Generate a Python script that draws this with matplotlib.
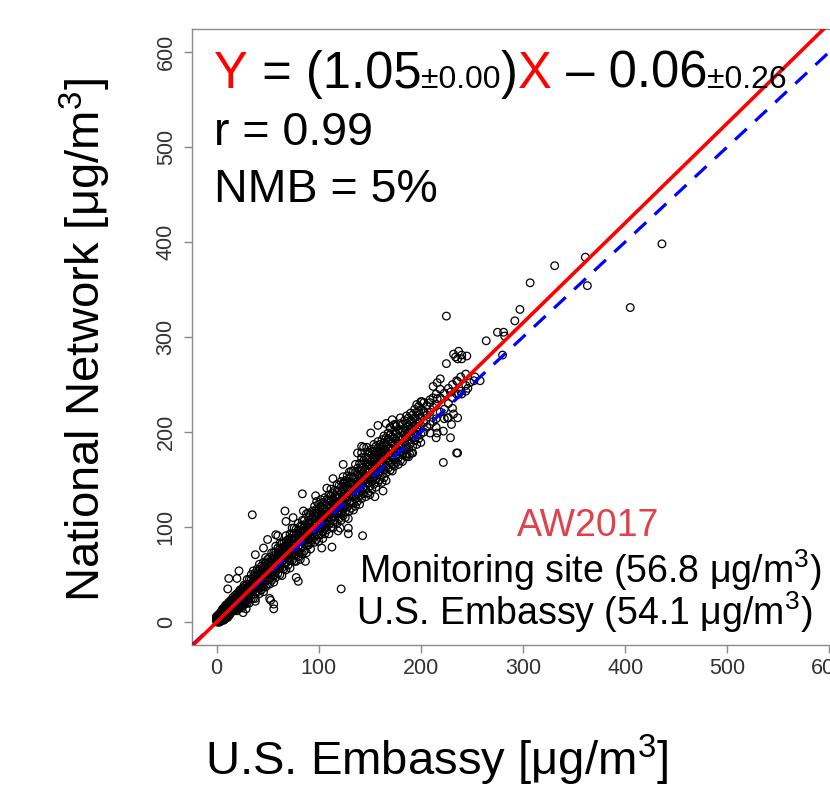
import matplotlib
matplotlib.use("Agg")
import matplotlib.pyplot as plt
import numpy as np

plt.rcParams['font.family'] = ['Liberation Sans', 'DejaVu Sans']
plt.rcParams['mathtext.fontset'] = 'custom'
plt.rcParams['mathtext.rm'] = 'Liberation Sans'
plt.rcParams['mathtext.it'] = 'Liberation Sans:italic'
plt.rcParams['mathtext.default'] = 'rm'

# ---------------- data ----------------
# dense core: (x, list of y values)
core_rows = [
    (0, [1, 4, 2, 6]), (1, [0, 3, 5]), (2, [1, 5, 8, 3]), (3, [2, 6, 0, 9]),
    (4, [3, 7, 1, 10, 5]), (5, [4, 9, 2, 6, 12]), (6, [3, 8, 11, 5, 14]), (7, [6, 10, 2, 13, 8]),
    (8, [5, 9, 12, 7, 16, 3]), (9, [7, 11, 14, 4, 10, 18]), (10, [8, 13, 6, 11, 17]),
    (11, [9, 14, 11, 5, 19, 16]), (12, [12, 16, 9, 14, 21, 7]), (13, [11, 17, 13, 8, 20, 15]),
    (14, [14, 18, 10, 16, 23, 12]), (15, [13, 19, 15, 11, 22, 17]), (16, [16, 21, 12, 18, 26, 14]),
    (17, [15, 20, 17, 13, 24, 19]), (18, [18, 23, 14, 21, 28, 16]), (19, [17, 22, 19, 13, 26, 24]),
    (20, [20, 25, 16, 22, 30, 18, 12]), (21, [19, 24, 21, 15, 28, 26]), (22, [22, 27, 18, 24, 32, 20]),
    (23, [21, 26, 23, 16, 30, 28, 34]), (24, [24, 29, 19, 26, 34, 22]), (25, [23, 28, 25, 18, 32, 30, 15]),
    (26, [26, 31, 21, 28, 36, 24]), (27, [25, 30, 27, 20, 34, 32, 39]), (28, [28, 33, 23, 30, 38, 26, 19]),
    (29, [27, 32, 29, 22, 36, 34]),
    (30, [20, 26, 31, 35, 40, 45, 29]), (32, [25, 30, 36, 40, 45, 20, 34]), (34, [25, 29, 34, 40, 45, 50, 37]),
    (36, [25, 33, 38, 43, 48, 36, 54]), (38, [32, 37, 43, 47, 52, 25, 41]), (40, [32, 36, 41, 46, 51, 56, 44]),
    (42, [30, 40, 45, 50, 55, 36, 61]), (44, [37, 44, 49, 54, 59, 34, 46]), (46, [37, 42, 48, 53, 58, 32, 63]),
    (48, [43, 47, 52, 57, 62, 37, 68]), (50, [40, 47, 51, 56, 61, 66, 53]), (52, [46, 51, 58, 63, 68, 40, 55]),
    (54, [44, 50, 55, 62, 67, 73, 59]), (56, [49, 56, 60, 65, 70, 42, 73]), (58, [53, 56, 63, 68, 74, 47, 80]),
    (60, [51, 57, 63, 67, 72, 78, 61]), (62, [50, 57, 62, 68, 73, 77, 83]), (64, [57, 63, 68, 73, 78, 49, 83]),
    (66, [56, 62, 68, 74, 79, 84, 71]), (68, [62, 68, 74, 79, 85, 55, 91]), (70, [60, 66, 72, 78, 83, 87, 74]),
    (72, [65, 71, 77, 83, 88, 57, 93]), (74, [71, 76, 82, 88, 93, 65, 99]), (76, [64, 71, 77, 82, 88, 93, 99]),
    (78, [70, 76, 82, 88, 93, 64, 98]), (80, [74, 80, 86, 91, 97, 69, 104]), (82, [73, 78, 85, 90, 96, 101, 66]),
    (84, [79, 85, 91, 96, 102, 72, 107]), (86, [75, 83, 88, 95, 101, 107, 90]), (88, [81, 87, 93, 99, 104, 73, 114]),
    (90, [87, 92, 99, 104, 110, 81, 115]), (92, [83, 88, 95, 100, 107, 113, 77]), (94, [87, 93, 99, 105, 111, 117, 96]),
    (96, [91, 97, 103, 109, 115, 84, 122]), (98, [87, 95, 102, 108, 114, 119, 104]),
    (100, [92, 99, 106, 112, 118, 85, 124]), (102, [98, 103, 110, 116, 122, 92, 129]),
    (104, [95, 102, 108, 114, 120, 126, 88]), (106, [100, 106, 113, 119, 125, 93, 131]),
    (108, [97, 103, 110, 117, 123, 129, 113]), (110, [103, 109, 116, 122, 128, 134, 93]),
    (112, [108, 114, 121, 127, 133, 100, 140]), (114, [104, 111, 117, 124, 130, 136, 99]),
    (116, [108, 115, 121, 127, 133, 139, 124]), (118, [114, 120, 126, 132, 138, 104, 145]),
    (120, [109, 117, 124, 131, 138, 144, 126]), (122, [114, 121, 129, 136, 142, 107, 148]),
    (124, [119, 125, 132, 139, 146, 112, 153]), (126, [116, 122, 129, 136, 143, 149, 110]),
    (128, [121, 128, 135, 141, 148, 154, 133]), (130, [126, 132, 139, 146, 152, 117, 158]),
    (132, [120, 127, 134, 140, 147, 153, 159]), (134, [125, 132, 139, 146, 152, 159, 118]),
    (136, [130, 137, 145, 151, 158, 122, 166]), (138, [127, 135, 141, 148, 156, 162, 145]),
    (140, [133, 140, 147, 154, 160, 167, 124]), (142, [138, 145, 152, 159, 166, 130, 173]),
    (144, [135, 141, 149, 156, 163, 170, 150]), (146, [140, 147, 154, 161, 168, 174, 132]),
    (148, [136, 146, 152, 159, 166, 173, 179]), (150, [143, 150, 158, 164, 171, 178, 134]),
    (152, [148, 155, 162, 169, 176, 140, 182]), (154, [145, 152, 159, 166, 173, 180, 187]),
    (156, [150, 157, 164, 171, 178, 185, 142]), (158, [155, 162, 169, 176, 183, 147, 190]),
    (160, [150, 159, 166, 173, 180, 187, 168]), (162, [155, 163, 171, 178, 185, 192, 147]),
    (164, [160, 167, 175, 182, 189, 152, 196]), (166, [157, 164, 172, 180, 187, 194, 149]),
    (168, [162, 170, 177, 184, 192, 199]), (170, [160, 168, 175, 183, 190, 197, 204]),
    (172, [166, 173, 181, 188, 195, 159]), (174, [171, 178, 186, 193, 201, 164, 207]),
    (176, [168, 176, 183, 191, 198, 206]), (178, [173, 181, 188, 195, 203, 166]),
    (180, [170, 179, 186, 194, 201, 209, 215]), (182, [176, 184, 192, 200, 208, 169]),
    (184, [181, 189, 197, 204, 212]), (186, [177, 186, 194, 202, 209, 217]),
    (188, [183, 191, 199, 207, 215, 174]), (190, [188, 196, 204, 212, 220]),
    (192, [185, 194, 202, 210, 218, 178]), (194, [191, 199, 207, 215, 224]),
    (196, [187, 197, 205, 213, 221, 229]), (198, [193, 202, 210, 218, 227]),
    (200, [198, 207, 215, 223, 189, 232]),
    (203, [200, 210, 222, 231]), (206, [205, 218, 228]), (209, [208, 221, 234, 199]),
    (212, [211, 226, 236]), (215, [214, 229, 240, 205]), (219, [221, 236, 245]),
    (223, [224, 241, 214]), (227, [230, 246]), (231, [236, 250, 225]), (235, [240, 254]),
    (239, [243, 258]), (244, [249, 261]), (248, [252]), (253, [258]),
]

# scattered points and outliers (x, y)
sparse_pts = [
    (35, 113), (122, 35), (143, 91), (222, 168), (235, 178), (67, 117), (84, 135), (97, 133),
    (114, 151), (113, 79), (53, 23), (56, 14), (80, 43), (78, 47), (52, 25), (56, 19), (75, 110),
    (68, 106), (129, 93), (129, 99), (129, 109), (12, 46), (11, 35), (0, 5), (60, 91), (50, 87),
    (22, 54), (158, 207), (166, 209), (172, 213), (142, 185), (147, 184), (155, 132), (185, 175),
    (191, 178), (186, 182), (225, 322), (275, 305), (281, 305), (282, 301), (264, 296), (232, 282),
    (237, 285), (240, 281), (245, 280), (236, 277), (240, 277), (234, 279), (225, 272), (219, 256),
    (216, 252), (212, 248), (236, 253), (252, 254), (246, 246), (244, 243), (280, 281), (229, 194),
    (230, 208), (236, 215), (227, 215), (232, 219), (186, 174), (189, 177), (144, 184), (142, 178),
    (151, 199), (170, 205), (174, 208), (201, 232), (209, 231), (216, 235), (198, 222), (203, 220),
    (216, 199), (215, 194), (226, 215), (436, 398), (361, 384), (331, 375), (307, 357), (363, 354),
    (405, 331), (297, 329), (292, 317), (258, 254), (229, 242), (237, 240), (240, 240), (222, 201),
    (236, 178), (29, 14), (26, 10), (38, 22), (20, 46), (38, 71), (46, 78), (58, 92), (87, 64),
    (103, 78), (119, 96), (163, 138), (121, 99), (85, 117), (98, 127), (108, 141), (124, 166),
    (138, 178),
]

fit_slope, fit_intercept = 1.05, -0.06
xlim = (-24, 624)
ylim = (-24, 624)
ticks = [0, 100, 200, 300, 400, 500, 600]

core_x = np.concatenate([[x] * len(ys) for x, ys in core_rows])
core_y = np.concatenate([ys for x, ys in core_rows])
sp_x = np.array([p[0] for p in sparse_pts])
sp_y = np.array([p[1] for p in sparse_pts])
all_x = np.concatenate([core_x, sp_x])
all_y = np.concatenate([core_y, sp_y])

# ---------------- figure ----------------
W, H = 830, 791
fig = plt.figure(figsize=(W / 100, H / 100), dpi=100)
ax = fig.add_axes([192 / W, (H - 645) / H, 662 / W, 616 / H])

ax.scatter(all_x, all_y, s=30, facecolors='none', edgecolors='black', linewidths=0.9, zorder=2)

lx = np.array([xlim[0], xlim[1]])
ax.plot(lx, lx, color='#0000ff', lw=2.3, dashes=(5, 3.6), zorder=3)
ax.plot(lx, fit_slope * lx + fit_intercept, color='#ff0000', lw=2.6, zorder=4)

ax.set_xlim(*xlim)
ax.set_ylim(*ylim)
ax.set_xticks(ticks)
ax.set_yticks(ticks)
ax.set_xticklabels([str(t) for t in ticks])
ax.set_yticklabels([str(t) for t in ticks], rotation=90, va='center')
for s in ax.spines.values():
    s.set_color('#8a8a8a')
    s.set_linewidth(1.0)
ax.tick_params(direction='out', length=6, width=1, color='#8a8a8a',
               labelsize=15.5, labelcolor='#333333')
ax.tick_params(axis='x', pad=3)
ax.tick_params(axis='y', pad=5)

# axis titles
fig.text(85 / W, 1 - 340 / H, 'National Network [μg/m$^{3}$]', rotation=90,
         ha='center', va='center', fontsize=34)
fig.text(437 / W, 1 - 760 / H, 'U.S. Embassy [μg/m$^{3}$]', ha='center', va='center', fontsize=34)

# equation line built from pieces
fig.canvas.draw()
renderer = fig.canvas.get_renderer()
pieces = [('Y', '#ff0000', 36.5), (' = (1.05', 'black', 36.5), ('±0.00', 'black', 23),
          (')', 'black', 36.5), ('X', '#ff0000', 36.5), (' – 0.06', 'black', 36.5), ('±0.26', 'black', 23)]
xp = 214
yb = 1 - 88 / H
for txt, col, fs in pieces:
    t = fig.text(xp / W, yb, txt, color=col, fontsize=fs, ha='left', va='baseline', zorder=5)
    xp += t.get_window_extent(renderer).width

fig.text(214 / W, 1 - 145 / H, 'r = 0.99', fontsize=33.5, ha='left', va='baseline')
fig.text(214 / W, 1 - 202 / H, 'NMB = 5%', fontsize=33.5, ha='left', va='baseline')

fig.text(588 / W, 1 - 526 / H, 'AW2017', color='#e0424c', fontsize=27, ha='center', va='center')
fig.text(590 / W, 1 - 570 / H, 'Monitoring site (56.8 μg/m$^{3}$)', fontsize=27, ha='center', va='center')
fig.text(584 / W, 1 - 612 / H, 'U.S. Embassy (54.1 μg/m$^{3}$)', fontsize=27, ha='center', va='center')

fig.savefig('out.png', dpi=100)
